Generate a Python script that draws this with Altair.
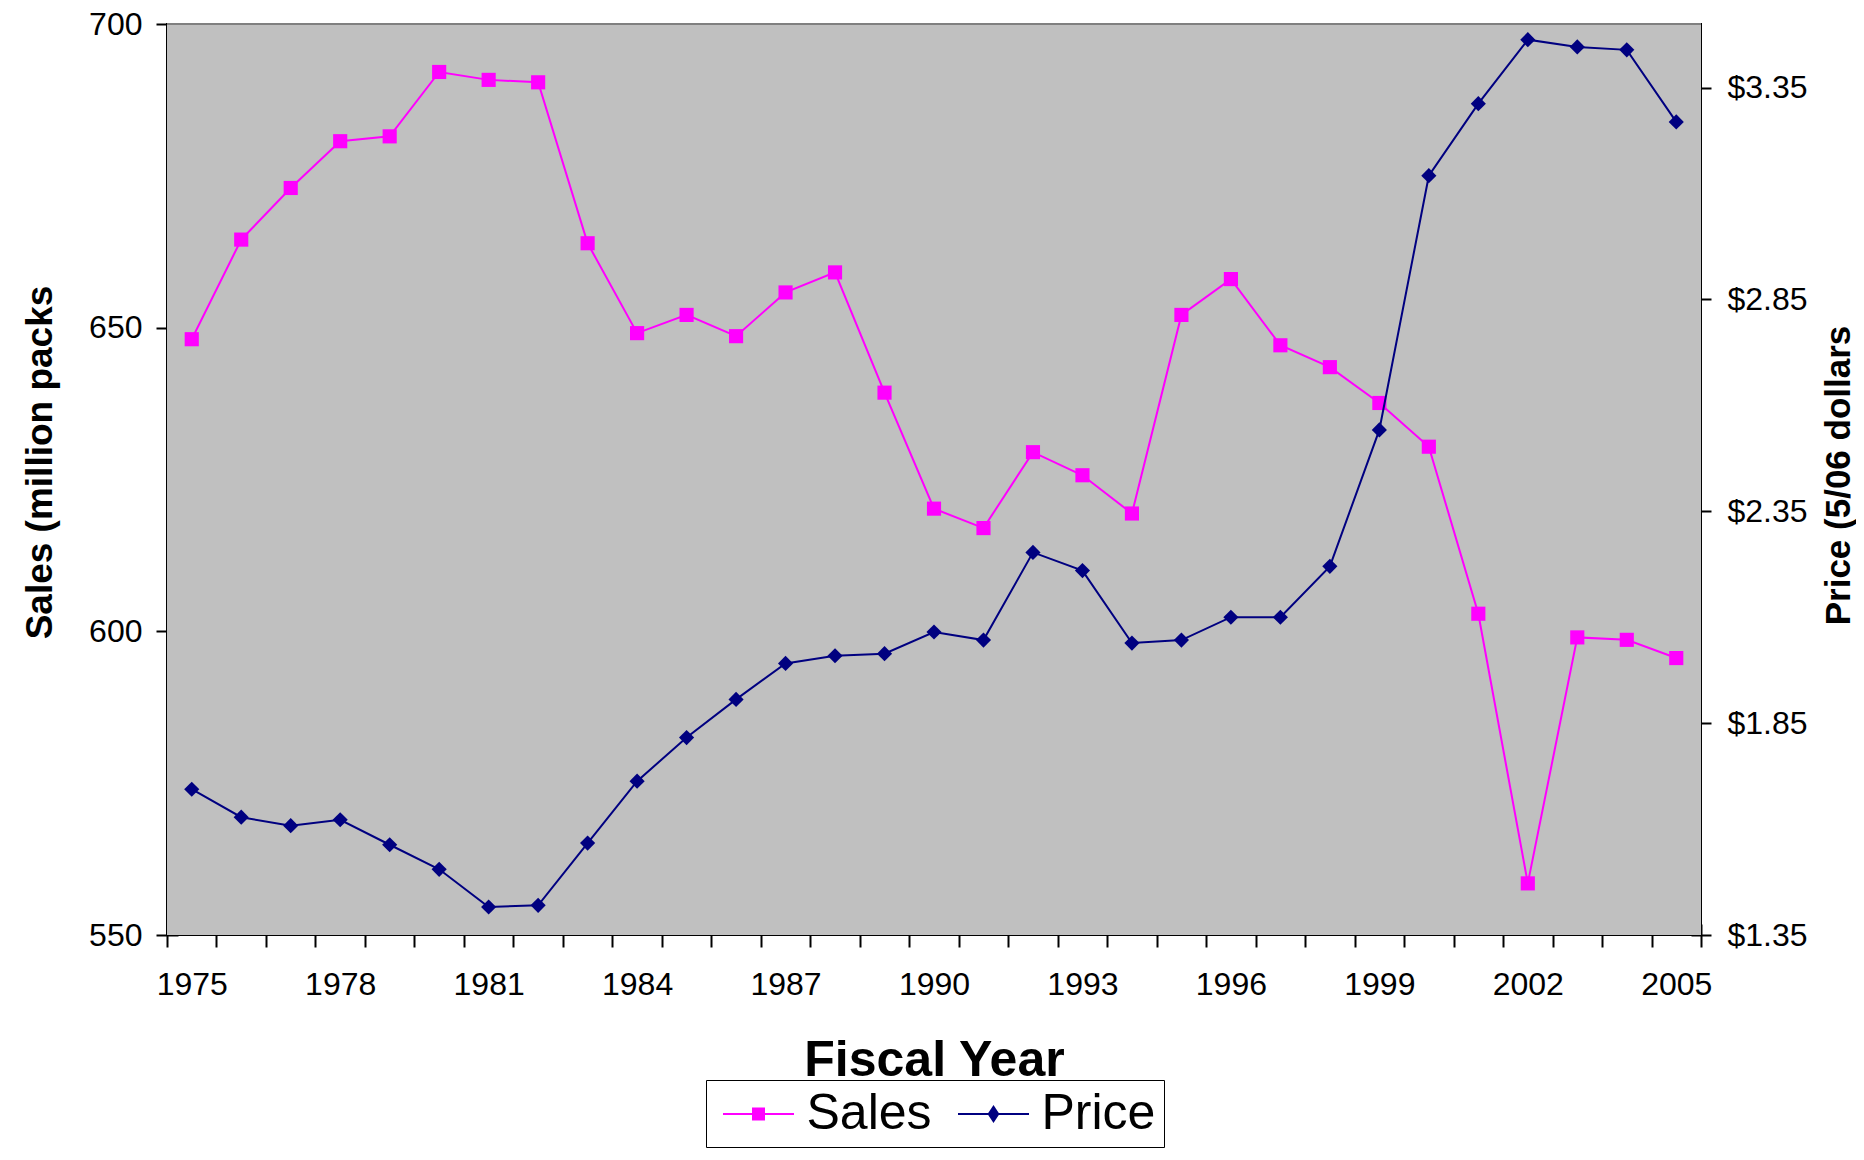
import altair as alt
import pandas as pd

# ---------------- data ----------------
years = [1975, 1976, 1977, 1978, 1979, 1980, 1981, 1982, 1983, 1984,
         1985, 1986, 1987, 1988, 1989, 1990, 1991, 1992, 1993, 1994,
         1995, 1996, 1997, 1998, 1999, 2000, 2001, 2002, 2003, 2004, 2005]
sales = [648.1, 664.5, 673.0, 680.7, 681.5, 692.1, 690.8, 690.4, 663.9, 649.1,
         652.1, 648.6, 655.8, 659.1, 639.3, 620.2, 617.0, 629.5, 625.7, 619.4,
         652.1, 658.0, 647.1, 643.5, 637.6, 630.4, 602.9, 558.5, 599.0, 598.6, 595.6]
price = [1.694, 1.628, 1.608, 1.622, 1.563, 1.505, 1.416, 1.420, 1.567, 1.713,
         1.816, 1.906, 1.991, 2.009, 2.014, 2.065, 2.046, 2.253, 2.210, 2.039,
         2.046, 2.100, 2.100, 2.220, 2.542, 3.142, 3.312, 3.463, 3.446, 3.439, 3.269]
series_names = ["Sales", "Price"]
series_colors = ["#FF00FF", "#000080"]
sales_ticks = [550, 600, 650, 700]
price_ticks = [1.35, 1.85, 2.35, 2.85, 3.35]

df = pd.DataFrame({"Year": years, "Sales": sales, "Price": price})
legend_df = pd.DataFrame({"Series": series_names})

FONT = "Liberation Sans"
W, H = 1534, 911
PLOT_BG = "#C0C0C0"

x_enc = alt.X(
    "Year:O",
    scale=alt.Scale(type="band", paddingInner=0, paddingOuter=0),
    axis=alt.Axis(
        title="Fiscal Year", titleFont=FONT, titleFontSize=50, titleFontWeight="bold",
        titleColor="black", titlePadding=35,
        labelFont=FONT, labelFontSize=32, labelColor="black", labelPadding=22,
        labelAngle=0, labelOverlap=False,
        labelExpr="(datum.value - 1975) % 3 === 0 ? datum.label : ''",
        tickBand="extent", tickSize=23, tickColor="black", tickWidth=2,
        domain=False, grid=False, offset=-11,
    ),
)

y_sales = alt.Y(
    "Sales:Q",
    scale=alt.Scale(domain=[550, 700], nice=False, zero=False),
    axis=alt.Axis(
        orient="left", values=sales_ticks, format="d",
        title="Sales (million packs", titleFont=FONT, titleFontSize=37,
        titleFontWeight="bold", titleColor="black", titleAngle=270,
        titleBaseline="bottom", titlePadding=29, titleY=438,
        labelFont=FONT, labelFontSize=32, labelColor="black", labelPadding=14,
        labelFlush=False, labelOverlap=False,
        tickSize=22, tickColor="black", tickWidth=2,
        domain=False, grid=False, offset=-11,
    ),
)

y_price = alt.Y(
    "Price:Q",
    scale=alt.Scale(domain=[1.35, 3.50], nice=False, zero=False),
    axis=alt.Axis(
        orient="right", values=price_ticks, format="$.2f",
        title="Price (5/06 dollars", titleFont=FONT, titleFontSize=35,
        titleFontWeight="bold", titleColor="black", titleAngle=270,
        titleBaseline="top", titlePadding=14, titleY=451,
        labelFont=FONT, labelFontSize=32, labelColor="black", labelPadding=16,
        labelFlush=False, labelOverlap=False,
        tickSize=20, tickColor="black", tickWidth=2,
        domain=False, grid=False, offset=-10,
    ),
)

# legend symbols: a short line with the series marker on it
sq_path = "M-1.42,0L1.42,0M-0.22,-0.22L0.22,-0.22L0.22,0.22L-0.22,0.22Z"
dia_path = "M-1.42,0L1.42,0M0,-0.29L0.19,0L0,0.29L-0.19,0Z"

legend_def = alt.Legend(
    title=None, orient="none", legendX=539, legendY=1056, direction="horizontal",
    symbolSize=2500, symbolOffset=18.5, symbolStrokeWidth=2, symbolOpacity=1,
    labelOffset=22, columnPadding=17, padding=8,
    labelFont=FONT, labelFontSize=50, labelColor="black",
    strokeColor="black", fillColor="white",
)
ser_scale_col = alt.Scale(domain=series_names, range=series_colors)

legend_layer = alt.Chart(legend_df).transform_filter("false").mark_point(
    filled=True, strokeWidth=2, opacity=1
).encode(
    fill=alt.Fill("Series:N", scale=ser_scale_col, legend=legend_def),
    stroke=alt.Stroke("Series:N", scale=ser_scale_col, legend=legend_def),
    shape=alt.Shape("Series:N", scale=alt.Scale(domain=series_names, range=[sq_path, dia_path]),
                    legend=legend_def),
)

one_row = pd.DataFrame({"k": [0]})
plot_bg = alt.Chart(one_row).mark_rect(color=PLOT_BG).encode(
    x=alt.value(0), x2=alt.value(W), y=alt.value(0), y2=alt.value(H))

sales_line = alt.Chart(df).mark_line(strokeWidth=2, color=series_colors[0]).encode(x=x_enc, y=y_sales)
sales_pts = alt.Chart(df).mark_point(
    shape="square", filled=True, size=200, color=series_colors[0], opacity=1
).encode(x=x_enc, y=y_sales)

price_line = alt.Chart(df).mark_line(strokeWidth=2, color=series_colors[1]).encode(x=x_enc, y=y_price)
price_pts = alt.Chart(df).mark_point(
    shape="diamond", filled=True, size=230, color=series_colors[1], opacity=1
).encode(x=x_enc, y=y_price)

top_rule = alt.Chart(one_row).mark_rule(
    color="#808080", strokeWidth=2
).encode(x=alt.value(0), x2=alt.value(W), y=alt.value(0))

chart = alt.layer(
    plot_bg,
    alt.layer(sales_line, sales_pts),
    alt.layer(price_line, price_pts),
    top_rule,
    legend_layer,
).resolve_scale(y="independent").properties(
    width=W, height=H,
    autosize=alt.AutoSizeParams(type="none"),
    padding={"left": 159, "top": 16, "right": 155, "bottom": 215},
    background="white",
).configure_view(
    fill=PLOT_BG, stroke="black", strokeWidth=2
)

chart.save("out.html", embed_options={"renderer": "svg", "actions": False})
